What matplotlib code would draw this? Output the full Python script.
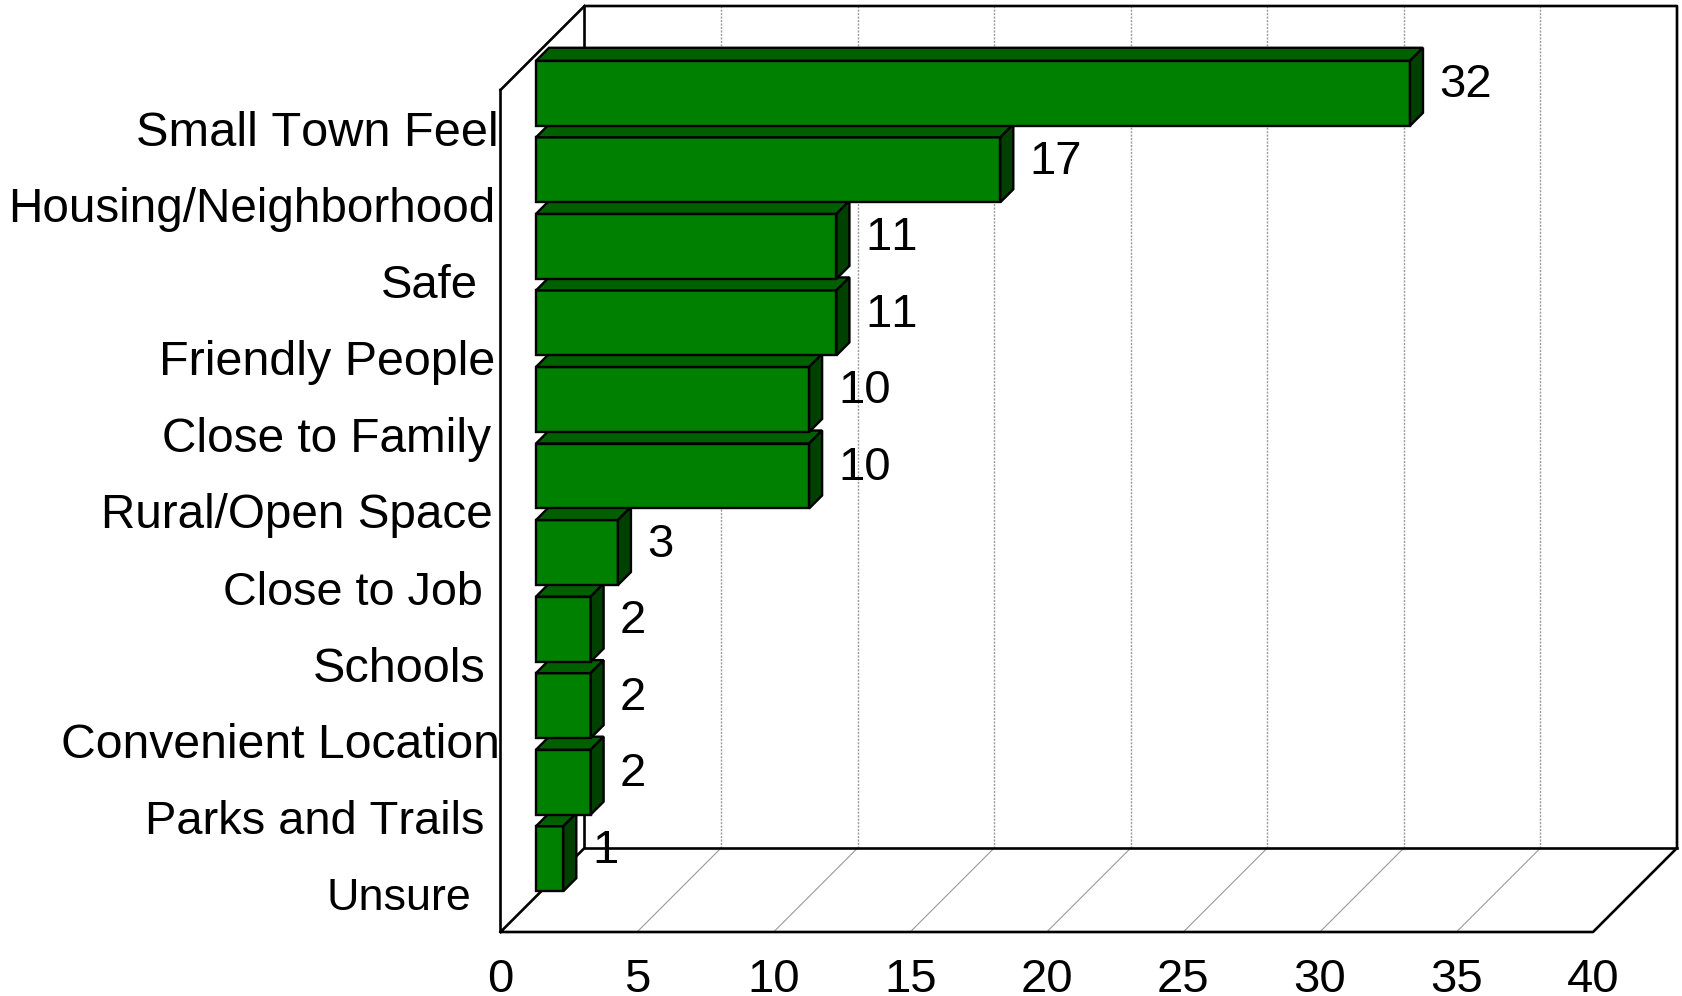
import matplotlib
matplotlib.use("Agg")
import matplotlib.pyplot as plt
from matplotlib.patches import Polygon
from matplotlib.transforms import ScaledTranslation

categories = ["Small Town Feel", "Housing/Neighborhood", "Safe", "Friendly People",
              "Close to Family", "Rural/Open Space", "Close to Job", "Schools",
              "Convenient Location", "Parks and Trails", "Unsure"]
values = [32, 17, 11, 11, 10, 10, 3, 2, 2, 2, 1]
x_ticks = [0, 5, 10, 15, 20, 25, 30, 35, 40]

# layout only: right-edge inset of each category label (px left of the axis line)
label_inset_px = [2, 5, 23, 5, 9, 8, 18, 15, 1, 16, 29]
# layout only: font size of each label, matching the reference's text widths
label_size = [35.1, 34.3, 34, 34.9, 34.4, 34.3, 33.7, 35, 34.7, 33.8, 32.3]

W, H = 1682, 996
L, R, T, B = 500.5, 1593.0, 90.0, 932.0
DEPTH_PX = 84.0       # wall depth
BAR_DEPTH_PX = 13.0   # bar depth
BAR_SHIFT_X = 35.5
BAR_SHIFT_Y = 35.0
BAR_FRAC = 65.0 / 76.55

plt.rcParams["font.family"] = ["Liberation Sans", "DejaVu Sans"]
plt.rcParams["text.kerning_factor"] = 6
fig = plt.figure(figsize=(W / 100, H / 100), dpi=100, facecolor="white")
ax = fig.add_axes([L / W, 1 - B / H, (R - L) / W, (B - T) / H])
ax.set_xlim(0, 40)
ax.set_ylim(len(values) - 0.5, -0.5)
ax.patch.set_visible(False)
for s in ax.spines.values():
    s.set_visible(False)

ux = (R - L) / 40.0
uy = (B - T) / len(values)
dx = DEPTH_PX / ux
dy = DEPTH_PX / uy
ymin, ymax = len(values) - 0.5, -0.5

FRAME = dict(color="black", lw=1.9, clip_on=False, solid_capstyle="projecting", zorder=2)
GRID = dict(color="#9a9a9a", lw=0.8, clip_on=False, zorder=1)

# grid on floor and back wall
for t in x_ticks[1:-1]:
    ax.plot([t, t + dx], [ymin, ymin - dy], **GRID)
    ax.plot([t + dx, t + dx], [ymin - dy, ymax - dy], color="#9a9a9a", lw=1.0,
            ls=(0, (1.5, 1)), clip_on=False, zorder=1)

# frame
ax.plot([0, 0, 40, 40 + dx, 40 + dx, dx, dx, 0],
        [ymax, ymin, ymin, ymin - dy, ymax - dy, ymax - dy, ymin - dy, ymin], **FRAME)
ax.plot([dx, 40 + dx], [ymin - dy, ymin - dy], **FRAME)
ax.plot([0, dx], [ymax, ymax - dy], **FRAME)

# bars, bottom one first so the upper ones overlap it
sx = BAR_SHIFT_X / ux
sy = BAR_SHIFT_Y / uy
bx = BAR_DEPTH_PX / ux
by = BAR_DEPTH_PX / uy
h = BAR_FRAC
EDGE = dict(edgecolor="black", lw=1.7, clip_on=False, joinstyle="miter")
for k in range(len(values) - 1, -1, -1):
    v = values[k]
    yc = k - sy
    z = 3 + (len(values) - k) * 0.1
    ax.barh(yc, v, height=h, left=sx, color="#008000", zorder=z, **EDGE)
    top, bot = yc - h / 2, yc + h / 2
    ax.add_patch(Polygon([(sx, top), (sx + bx, top - by), (sx + v + bx, top - by), (sx + v, top)],
                         closed=True, facecolor="#006000", zorder=z, **EDGE))
    ax.add_patch(Polygon([(sx + v, top), (sx + v + bx, top - by), (sx + v + bx, bot - by), (sx + v, bot)],
                         closed=True, facecolor="#004000", zorder=z, **EDGE))
    ax.annotate(str(v), xy=(sx + v + bx, yc), xytext=(16.2 * 0.72, -4 * 0.72),
                textcoords="offset points", ha="left", va="baseline",
                fontsize=34, color="black", zorder=20, annotation_clip=False)

# axes labels
ax.set_xticks(x_ticks)
ax.set_xticklabels([str(t) for t in x_ticks], fontsize=34)
ax.tick_params(axis="x", length=0, pad=18.5)
ax.set_yticks(range(len(categories)))
ax.set_yticklabels(categories, fontsize=34)
ax.tick_params(axis="y", length=0, pad=0)
for lab, inset, size in zip(ax.get_yticklabels(), label_inset_px, label_size):
    lab.set_fontsize(size)
    lab.set_transform(lab.get_transform() +
                      ScaledTranslation(-inset / 100, 0, fig.dpi_scale_trans))

fig.savefig("out.png", dpi=100, facecolor="white")
